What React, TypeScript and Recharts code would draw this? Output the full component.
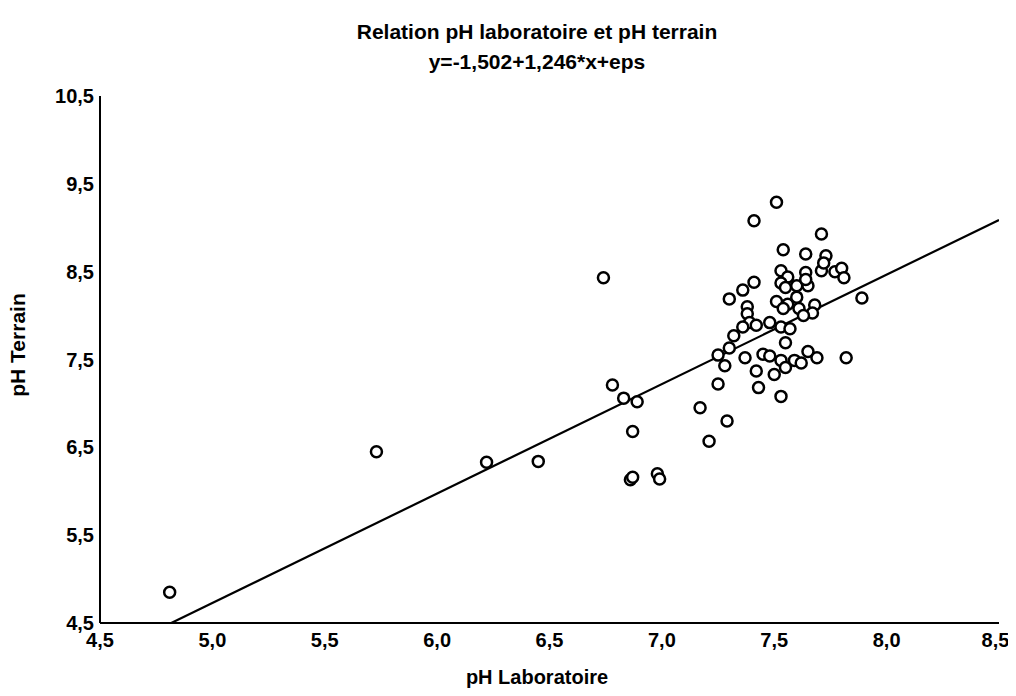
import React from "react";
import { ScatterChart, Scatter, XAxis, YAxis } from "recharts";

const phLabo = [
  4.81, 5.73, 6.22, 6.45, 6.74, 6.78, 6.83, 6.89, 6.87, 6.86, 6.87, 6.98, 6.99,
  7.17, 7.21, 7.25, 7.29, 7.25, 7.28, 7.32, 7.3, 7.37, 7.3, 7.36, 7.41, 7.41,
  7.51, 7.38, 7.38, 7.39, 7.36, 7.42, 7.48, 7.53, 7.57, 7.55, 7.45, 7.48, 7.53,
  7.55, 7.59, 7.62, 7.65, 7.69, 7.82, 7.42, 7.5, 7.43, 7.53, 7.51, 7.56, 7.54,
  7.6, 7.61, 7.68, 7.67, 7.63, 7.89, 7.53, 7.56, 7.53, 7.55, 7.6, 7.65, 7.64,
  7.64, 7.71, 7.77, 7.8, 7.81, 7.54, 7.64, 7.73, 7.72, 7.71,
];
const phTerrain = [
  4.85, 6.45, 6.33, 6.34, 8.43, 7.21, 7.06, 7.02, 6.68, 6.13, 6.16, 6.2, 6.14,
  6.95, 6.57, 7.22, 6.8, 7.55, 7.43, 7.77, 7.63, 7.52, 8.19, 8.29, 8.38, 9.08,
  9.29, 8.1, 8.02, 7.92, 7.87, 7.89, 7.92, 7.87, 7.85, 7.69, 7.56, 7.54, 7.49,
  7.41, 7.49, 7.46, 7.59, 7.52, 7.52, 7.37, 7.33, 7.18, 7.08, 8.16, 8.13, 8.08,
  8.21, 8.08, 8.12, 8.03, 8.0, 8.2, 8.51, 8.44, 8.37, 8.32, 8.34, 8.34, 8.49,
  8.41, 8.51, 8.5, 8.54, 8.43, 8.75, 8.7, 8.68, 8.6, 8.93,
];

// droite de régression y = -1,502 + 1,246*x
const INTERCEPT = -1.502;
const SLOPE = 1.246;
const fitX = [4.817, 8.5];

const xTicks = [4.5, 5.0, 5.5, 6.0, 6.5, 7.0, 7.5, 8.0, 8.5];
const yTicks = [4.5, 5.5, 6.5, 7.5, 8.5, 9.5, 10.5];

const points = phLabo.map((x, i) => ({ x, y: phTerrain[i] }));
const fitData = fitX.map((x) => ({ x, y: INTERCEPT + SLOPE * x }));

const font = '"Liberation Sans", Arial, sans-serif';
const fmt = (v: number) => v.toFixed(1).replace(".", ",");
const tickStyle = { fill: "#000", fontSize: 20, fontWeight: 700, fontFamily: font };

const OpenCircle = (props: any) => (
  <circle cx={props.cx} cy={props.cy} r={5.5} fill="#fff" stroke="#000" strokeWidth={2.5} />
);

export default function App() {
  return (
    <div style={{ position: "relative", width: 1000, height: 680, fontFamily: font, background: "#fff" }}>
      <div style={{ position: "absolute", left: 0, width: 1058, top: 12, textAlign: "center", fontSize: 21, fontWeight: 700 }}>
        Relation pH laboratoire et pH terrain
      </div>
      <div style={{ position: "absolute", left: 0, width: 1058, top: 42, textAlign: "center", fontSize: 21, fontWeight: 700 }}>
        y=-1,502+1,246*x+eps
      </div>
      <div
        style={{
          position: "absolute",
          left: 10,
          top: 337,
          transform: "translate(-50%, -50%) rotate(-90deg)",
          fontSize: 21,
          fontWeight: 700,
          whiteSpace: "nowrap",
        }}
      >
        pH Terrain
      </div>
      <div style={{ position: "absolute", left: 0, width: 1058, top: 658, textAlign: "center", fontSize: 20, fontWeight: 700 }}>
        pH Laboratoire
      </div>

      <ScatterChart width={1000} height={680} margin={{ top: 88, right: 9, bottom: 15, left: 32 }}>
        <XAxis
          type="number"
          dataKey="x"
          domain={[4.5, 8.5]}
          ticks={xTicks}
          allowDataOverflow
          tickFormatter={fmt}
          tick={tickStyle}
          tickLine={false}
          tickSize={4}
          tickMargin={6}
          height={50}
          axisLine={{ stroke: "#000", strokeWidth: 2 }}
        />
        <XAxis
          xAxisId="top"
          orientation="top"
          type="number"
          domain={[4.5, 8.5]}
          tick={false}
          tickLine={false}
          height={0}
          axisLine={{ stroke: "#000", strokeWidth: 2 }}
        />
        <YAxis
          type="number"
          dataKey="y"
          domain={[4.5, 10.5]}
          ticks={yTicks}
          allowDataOverflow
          tickFormatter={fmt}
          tick={tickStyle}
          tickLine={false}
          tickSize={4}
          tickMargin={2}
          width={60}
          axisLine={{ stroke: "#000", strokeWidth: 2 }}
        />
        <YAxis
          yAxisId="right"
          orientation="right"
          type="number"
          domain={[4.5, 10.5]}
          tick={false}
          tickLine={false}
          width={0}
          axisLine={{ stroke: "#000", strokeWidth: 2 }}
        />
        <Scatter
          data={fitData}
          line={{ stroke: "#000", strokeWidth: 2.2 }}
          shape={() => <g />}
          legendType="none"
          isAnimationActive={false}
        />
        <Scatter data={points} shape={OpenCircle} isAnimationActive={false} />
      </ScatterChart>
    </div>
  );
}
